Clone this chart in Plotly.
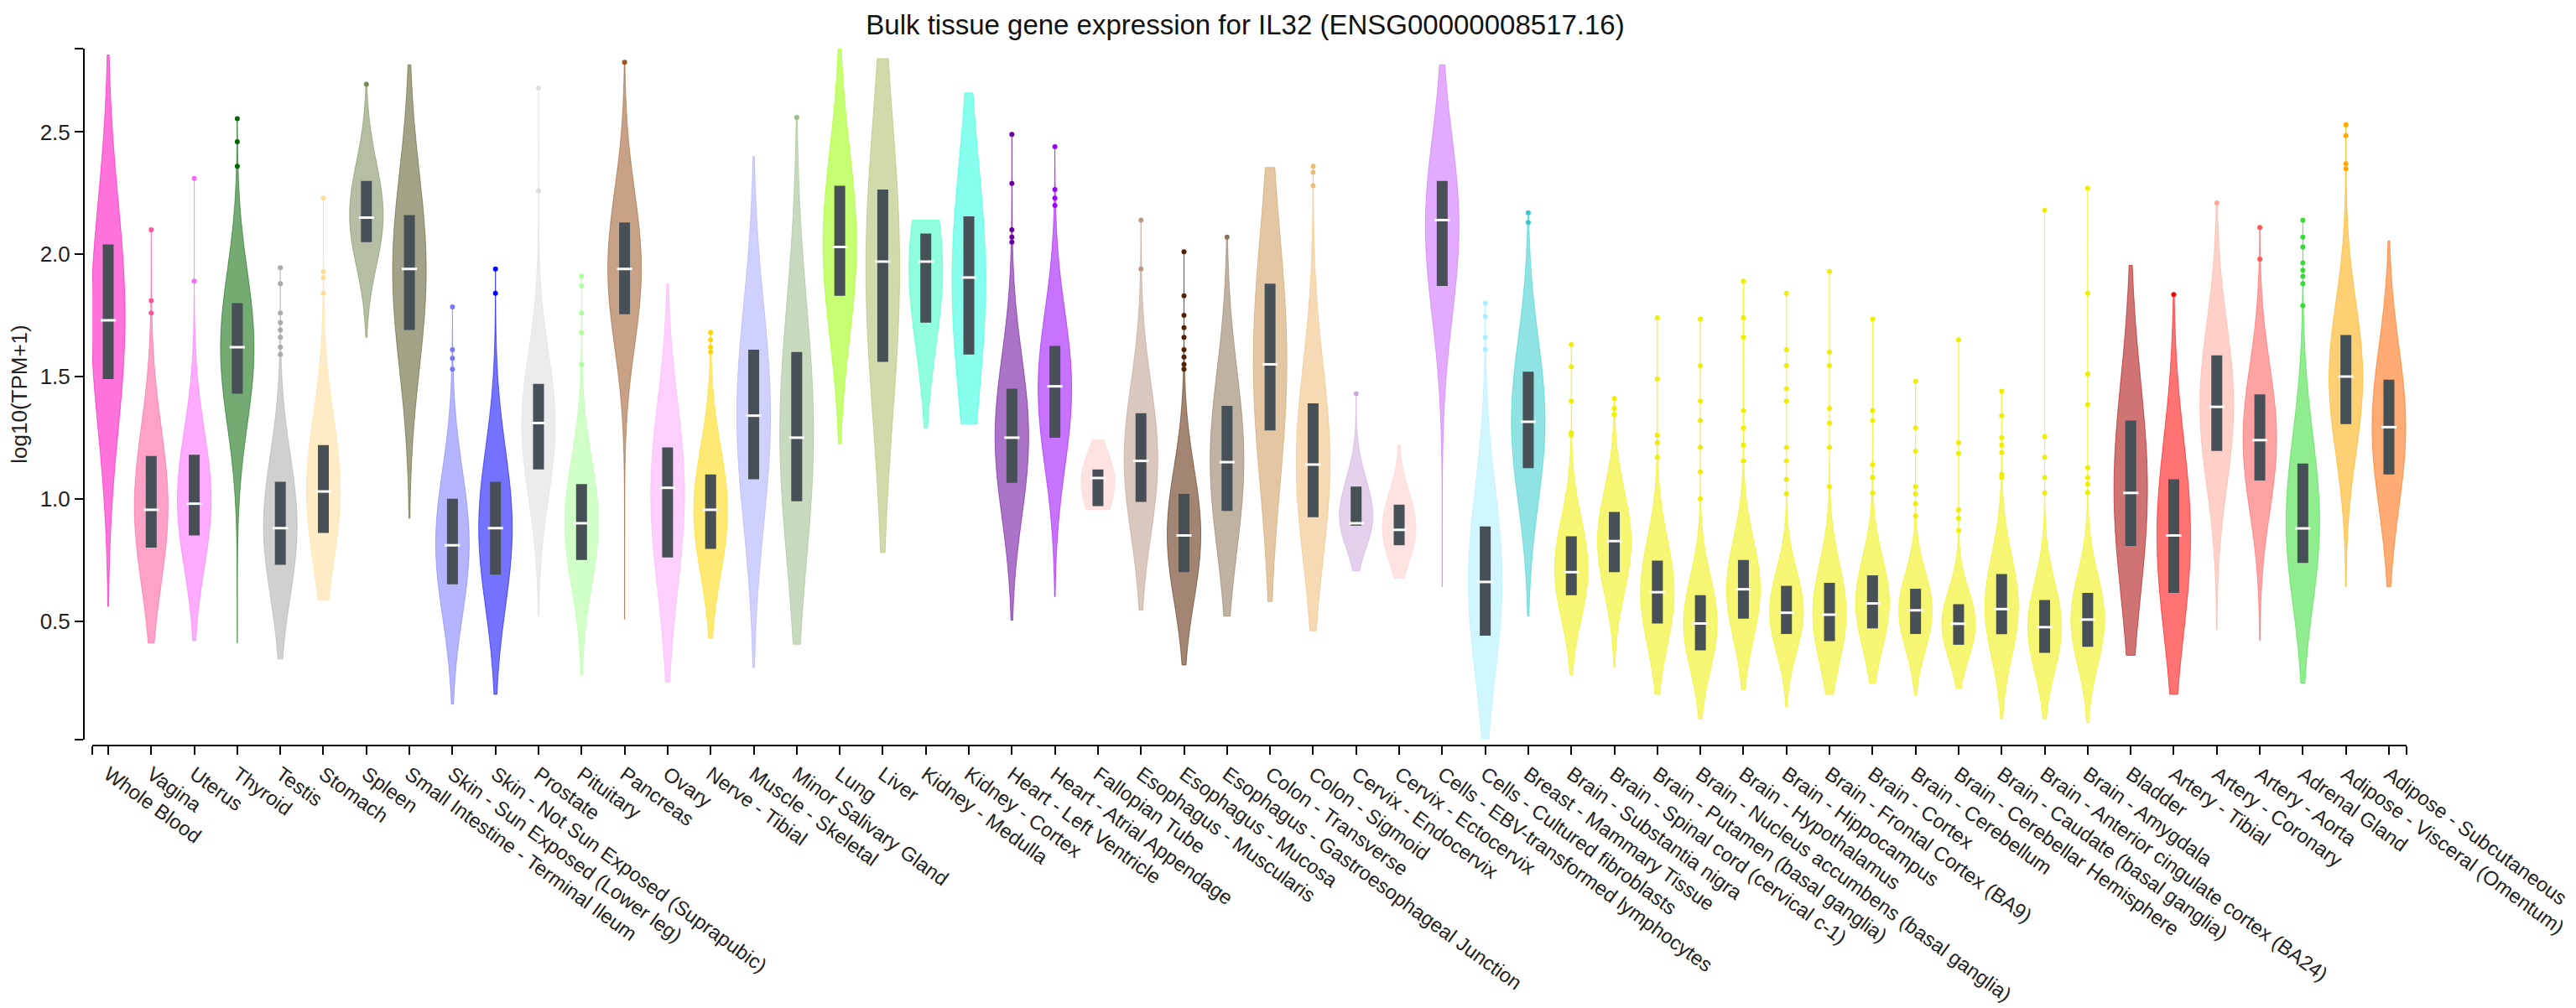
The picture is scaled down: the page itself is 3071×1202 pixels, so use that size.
import plotly.graph_objects as go

# tissue order as in the GTEx plot (reverse alphabetical)
tissues = [
    "Whole Blood", "Vagina", "Uterus", "Thyroid", "Testis", "Stomach", "Spleen",
    "Small Intestine - Terminal Ileum", "Skin - Sun Exposed (Lower leg)",
    "Skin - Not Sun Exposed (Suprapubic)", "Prostate", "Pituitary", "Pancreas",
    "Ovary", "Nerve - Tibial", "Muscle - Skeletal", "Minor Salivary Gland", "Lung",
    "Liver", "Kidney - Medulla", "Kidney - Cortex", "Heart - Left Ventricle",
    "Heart - Atrial Appendage", "Fallopian Tube", "Esophagus - Muscularis",
    "Esophagus - Mucosa", "Esophagus - Gastroesophageal Junction",
    "Colon - Transverse", "Colon - Sigmoid", "Cervix - Endocervix",
    "Cervix - Ectocervix", "Cells - EBV-transformed lymphocytes",
    "Cells - Cultured fibroblasts", "Breast - Mammary Tissue",
    "Brain - Substantia nigra", "Brain - Spinal cord (cervical c-1)",
    "Brain - Putamen (basal ganglia)", "Brain - Nucleus accumbens (basal ganglia)",
    "Brain - Hypothalamus", "Brain - Hippocampus", "Brain - Frontal Cortex (BA9)",
    "Brain - Cortex", "Brain - Cerebellum", "Brain - Cerebellar Hemisphere",
    "Brain - Caudate (basal ganglia)", "Brain - Anterior cingulate cortex (BA24)",
    "Brain - Amygdala", "Bladder", "Artery - Tibial", "Artery - Coronary",
    "Artery - Aorta", "Adrenal Gland", "Adipose - Visceral (Omentum)",
    "Adipose - Subcutaneous",
]

colors = [
    "#FF00BB", "#FF5599", "#FF66FF", "#006600", "#AAAAAA", "#FFDD99", "#778855",
    "#555522", "#7777FF", "#0000FF", "#DDDDDD", "#AAFF99", "#995522",
    "#FFAAFF", "#FFD700", "#AAAAFF", "#99BB88", "#99FF00",
    "#AABB66", "#33FFC2", "#22FFDD", "#660099",
    "#9900FF", "#FFCCCC", "#BB9988",
    "#552200", "#8B7355",
    "#CC9955", "#EEBB77", "#CCAADD",
    "#FFCCCC", "#CC66FF",
    "#AAEEFF", "#33CCCC",
    "#EEEE00", "#EEEE00", "#EEEE00", "#EEEE00", "#EEEE00", "#EEEE00", "#EEEE00",
    "#EEEE00", "#EEEE00", "#EEEE00", "#EEEE00", "#EEEE00", "#EEEE00",
    "#AA0000", "#FF0000", "#FFAA99", "#FF5555", "#33DD33", "#FFAA00", "#FF6600",
]

# log10(TPM+1) summary values
q1 = [1.49, 0.80, 0.85, 1.43, 0.73, 0.86, 2.05, 1.69, 0.65, 0.69, 1.12, 0.75, 1.755,
      0.76, 0.795, 1.08, 0.99, 1.83, 1.56, 1.72, 1.59, 1.065, 1.25, 0.97, 0.987,
      0.70, 0.95, 1.28, 0.925, 0.89, 0.81, 1.87, 0.44, 1.125,
      0.606, 0.70, 0.49, 0.38, 0.51, 0.447, 0.418, 0.47, 0.447, 0.403, 0.446, 0.37, 0.395,
      0.807, 0.615, 1.196, 1.075, 0.738, 1.305, 1.10]
medians = [1.73, 0.955, 0.98, 1.62, 0.88, 1.03, 2.15, 1.94, 0.81, 0.88, 1.31, 0.90, 1.94,
           1.045, 0.955, 1.34, 1.25, 2.03, 1.97, 1.97, 1.905, 1.25, 1.46, 1.085, 1.155,
           0.85, 1.15, 1.55, 1.14, 0.90, 0.873, 2.14, 0.66, 1.315,
           0.70, 0.827, 0.618, 0.49, 0.63, 0.534, 0.526, 0.572, 0.544, 0.489, 0.549, 0.475, 0.506,
           1.024, 0.85, 1.376, 1.24, 0.879, 1.50, 1.293]
q3 = [2.04, 1.175, 1.18, 1.80, 1.07, 1.22, 2.30, 2.16, 1.00, 1.07, 1.47, 1.06, 2.13,
      1.21, 1.10, 1.61, 1.60, 2.28, 2.265, 2.085, 2.155, 1.45, 1.625, 1.12, 1.35,
      1.02, 1.38, 1.88, 1.39, 1.05, 0.976, 2.30, 0.887, 1.52,
      0.847, 0.946, 0.747, 0.606, 0.75, 0.644, 0.656, 0.687, 0.632, 0.569, 0.692, 0.586, 0.615,
      1.32, 1.08, 1.587, 1.427, 1.144, 1.67, 1.487]
lows = [0.56, 0.41, 0.42, 0.41, 0.345, 0.585, 1.66, 0.92, 0.16, 0.20, 0.52, 0.28, 0.507,
        0.25, 0.43, 0.31, 0.405, 1.225, 0.78, 1.29, 1.305, 0.503, 0.60, 0.955, 0.545,
        0.32, 0.52, 0.58, 0.46, 0.705, 0.675, 0.64, 0.02, 0.52,
        0.28, 0.31, 0.20, 0.10, 0.22, 0.15, 0.20, 0.246, 0.195, 0.224, 0.10, 0.10, 0.084,
        0.36, 0.20, 0.465, 0.42, 0.246, 0.64, 0.64]
highs = [2.815, 2.10, 2.31, 2.555, 1.945, 2.23, 2.695, 2.775, 1.785, 1.94, 2.68, 1.91, 2.785,
         1.88, 1.68, 2.40, 2.56, 2.84, 2.80, 2.14, 2.66, 2.49, 2.44, 1.24, 2.14,
         2.01, 2.07, 2.355, 2.36, 1.43, 1.22, 2.775, 1.80, 2.17,
         1.63, 1.41, 1.74, 1.735, 1.89, 1.84, 1.93, 1.735, 1.48, 1.65, 1.44, 2.18, 2.27,
         1.955, 1.835, 2.21, 2.11, 2.14, 2.53, 2.055]
outliers = [
    [], [2.10, 1.81, 1.76], [2.31, 1.89], [2.555, 2.46, 2.36],
    [1.945, 1.88, 1.76, 1.72, 1.69, 1.66, 1.62, 1.59], [2.23, 1.93, 1.905, 1.84],
    [2.695], [], [1.785, 1.61, 1.575, 1.53], [1.94, 1.84], [2.68, 2.26],
    [1.91, 1.87, 1.76, 1.68, 1.55], [2.785], [], [1.68, 1.65, 1.62, 1.60], [], [2.56],
    [], [], [], [], [2.49, 2.29, 2.10, 2.07, 2.05], [2.44, 2.265, 2.23, 2.20], [],
    [2.14, 1.94], [2.01, 1.83, 1.75, 1.70, 1.66, 1.61, 1.58, 1.55, 1.53], [2.07],
    [], [2.36, 2.335, 2.28], [1.43], [], [], [1.80, 1.745, 1.66, 1.61], [2.17, 2.13],
    [1.63, 1.54, 1.40, 1.27, 1.26], [1.41, 1.37, 1.345], [1.74, 1.49, 1.26, 1.23, 1.17],
    [1.735, 1.545, 1.40, 1.32, 1.21, 1.11, 1.00],
    [1.89, 1.74, 1.66, 1.36, 1.29, 1.22, 1.155],
    [1.84, 1.61, 1.545, 1.45, 1.40, 1.21, 1.155, 1.08, 1.02],
    [1.93, 1.60, 1.545, 1.37, 1.31, 1.21, 1.05],
    [1.735, 1.36, 1.32, 1.14, 1.087, 1.024],
    [1.48, 1.29, 1.195, 1.05, 1.02, 0.98, 0.93],
    [1.65, 1.23, 1.185, 0.955, 0.92, 0.87],
    [1.44, 1.34, 1.25, 1.22, 1.19, 1.10, 1.087],
    [2.18, 1.255, 1.17, 1.087, 1.024],
    [2.27, 1.84, 1.51, 1.385, 1.127, 1.087, 1.06, 1.026],
    [], [1.835], [2.21], [2.11, 1.98], [2.14, 2.07, 2.03, 1.965, 1.935, 1.91, 1.88, 1.79],
    [2.53, 2.485, 2.37, 2.35], [],
]

y_ticks = [0.5, 1.0, 1.5, 2.0, 2.5]
y_min, y_max = 0.015, 2.841
FONT = "Liberation Sans, Arial, sans-serif"


def rgba(hex_color, a):
    h = hex_color.lstrip('#')
    return 'rgba(%d, %d, %d, %.2f)' % (int(h[0:2], 16), int(h[2:4], 16), int(h[4:6], 16), a)


fig = go.Figure()

for i, name in enumerate(tissues):
    iqr = q3[i] - q1[i]
    fig.add_trace(go.Violin(
        x0=i,
        y=[q1[i], medians[i], q3[i]],
        name=name,
        span=[lows[i], highs[i]],
        spanmode='manual',
        bandwidth=max(0.7 * iqr, 0.1),
        width=0.78,
        scalemode='width',
        points=False,
        box_visible=False,
        meanline_visible=False,
        fillcolor=rgba(colors[i], 0.55),
        line=dict(color=rgba(colors[i], 0.55), width=1),
        hoverinfo='name',
    ))

# dark IQR boxes
bx, by = [], []
for i in range(len(tissues)):
    bx += [i, i, None]
    by += [q1[i], q3[i], None]
fig.add_trace(go.Scatter(x=bx, y=by, mode='lines',
                         line=dict(color='#474f57', width=13), hoverinfo='skip'))

# median ticks
fig.add_trace(go.Scatter(
    x=list(range(len(tissues))), y=medians, mode='markers',
    marker=dict(symbol='line-ew', size=13, line=dict(color='white', width=3)),
    hoverinfo='y'))

# outlier dots
ox, oy, oc = [], [], []
for i, pts in enumerate(outliers):
    for v in pts:
        ox.append(i)
        oy.append(v)
        oc.append(colors[i])
fig.add_trace(go.Scatter(x=ox, y=oy, mode='markers',
                         marker=dict(size=6, color=oc), hoverinfo='y'))

x_lo, x_hi = -0.37, len(tissues) - 1 + 0.41

fig.update_layout(
    width=3071,
    height=1202,
    margin=dict(l=92, r=210, t=50, b=321, autoexpand=False),
    paper_bgcolor='white',
    plot_bgcolor='white',
    showlegend=False,
    violinmode='overlay',
    font=dict(family=FONT, color='#222'),
    title=dict(
        text='Bulk tissue gene expression for IL32 (ENSG00000008517.16)',
        x=0.5, xref='paper', xanchor='center',
        y=1 - 21 / 1202, yref='container', yanchor='middle',
        font=dict(size=33, color='#111', family=FONT),
    ),
    xaxis=dict(
        type='linear',
        automargin=False,
        domain=[10 / 2769, 1],
        range=[x_lo, x_hi],
        anchor='free', position=0,
        tickvals=[x_lo] + list(range(len(tissues))) + [x_hi],
        ticktext=[''] + tissues + [''],
        tickangle=36,
        tickfont=dict(size=24, color='#222'),
        showline=True, linecolor='#000', linewidth=2,
        ticks='outside', ticklen=10, tickwidth=2, tickcolor='#000',
        showgrid=False, zeroline=False,
    ),
    yaxis=dict(
        automargin=False,
        domain=[7 / 831, 1],
        range=[y_min, y_max],
        anchor='free', position=0,
        tickvals=[y_min] + y_ticks + [y_max],
        ticktext=[''] + ['%.1f' % v for v in y_ticks] + [''],
        tickfont=dict(size=26, color='#222'),
        showline=True, linecolor='#000', linewidth=2,
        ticks='outside', ticklen=10, tickwidth=2, tickcolor='#000',
        showgrid=False, zeroline=False,
        title=dict(text='log10(TPM+1)', font=dict(size=26, color='#222'), standoff=8),
    ),
)

fig.write_html("out.html")
